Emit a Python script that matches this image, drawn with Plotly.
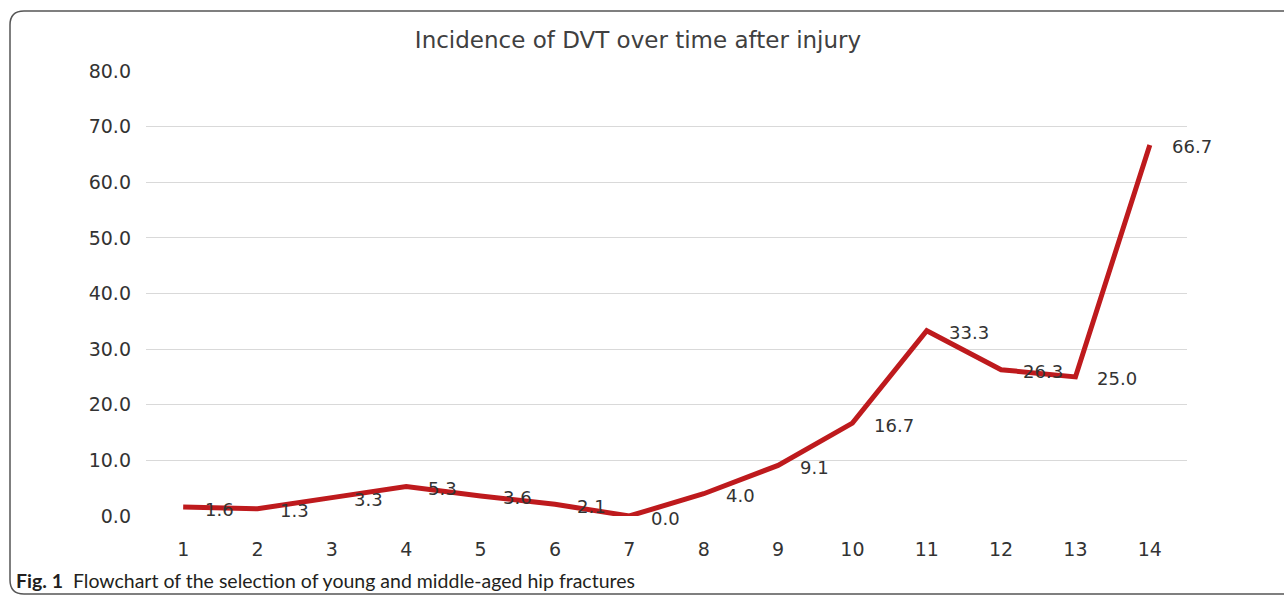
import plotly.graph_objects as go

categories = [str(i) for i in range(1, 15)]
incidence = [1.6, 1.3, 3.3, 5.3, 3.6, 2.1, 0.0, 4.0, 9.1, 16.7, 33.3, 26.3, 25.0, 66.7]
label_text = ["%.1f" % v for v in incidence]
y_ticks = [0, 10, 20, 30, 40, 50, 60, 70, 80]
y_tick_text = ["%.1f" % v for v in y_ticks]

W, H = 1284, 597
L, R, T, B = 146, 97, 71, 81
pw, ph = W - L - R, H - T - B


def px(x):
    return (x - L) / pw


def py(y):
    return (H - B - y) / ph


fig = go.Figure()
fig.add_trace(go.Scatter(
    x=categories, y=incidence, mode="lines",
    line=dict(color="#BE1A1D", width=5),
    hoverinfo="skip", showlegend=False,
))

annotations = []
for i, (v, t) in enumerate(zip(incidence, label_text)):
    annotations.append(dict(
        x=i, y=v, xref="x", yref="y", text=t, showarrow=False,
        xanchor="left", yanchor="middle", xshift=20, yshift=-2,
        font=dict(family="DejaVu Sans", size=18, color="#333333"),
    ))

annotations.append(dict(
    x=px(14), y=py(580), xref="paper", yref="paper",
    text="<b>Fig. 1</b>  Flowchart of the selection of young and middle-aged hip fractures",
    showarrow=False, xanchor="left", yanchor="middle",
    font=dict(family="Lato, sans-serif", size=19.5, color="#231F20"),
))

# rounded figure border
x0, x1 = 10, 1310
y0, y1 = 11, 594
r = 14
path = (
    f"M {px(x0)},{py(y1 - r)} "
    f"L {px(x0)},{py(y0 + r)} "
    f"Q {px(x0)},{py(y0)} {px(x0 + r)},{py(y0)} "
    f"L {px(x1 - r)},{py(y0)} "
    f"Q {px(x1)},{py(y0)} {px(x1)},{py(y0 + r)} "
    f"L {px(x1)},{py(y1 - r)} "
    f"Q {px(x1)},{py(y1)} {px(x1 - r)},{py(y1)} "
    f"L {px(x0 + r)},{py(y1)} "
    f"Q {px(x0)},{py(y1)} {px(x0)},{py(y1 - r)} Z"
)

fig.update_layout(
    width=W, height=H,
    margin=dict(l=L, r=R, t=T, b=B),
    paper_bgcolor="white", plot_bgcolor="white",
    title=dict(text="Incidence of DVT over time after injury",
               x=638 / W, xanchor="center", y=1 - 40 / H, yanchor="middle",
               font=dict(family="DejaVu Sans", size=23, color="#404040")),
    xaxis=dict(type="category", range=[-0.5, 13.5], showgrid=False, showline=False,
               zeroline=False, ticks="",
               tickfont=dict(family="DejaVu Sans", size=19, color="#333333"),
               ticklabelstandoff=20),
    yaxis=dict(range=[0, 80], tickvals=y_ticks, ticktext=y_tick_text,
               showgrid=True, gridcolor="#D9D9D9", gridwidth=1,
               zeroline=False, showline=False, ticks="",
               tickfont=dict(family="DejaVu Sans", size=19, color="#333333"),
               ticklabelstandoff=14),
    annotations=annotations,
    shapes=[dict(type="path", path=path, xref="paper", yref="paper",
                 line=dict(color="#555555", width=1.5), layer="above")],
)

fig.write_html("out.html", config={"displayModeBar": False},
               post_script="document.body.style.margin='0';document.body.style.overflow='hidden';")
